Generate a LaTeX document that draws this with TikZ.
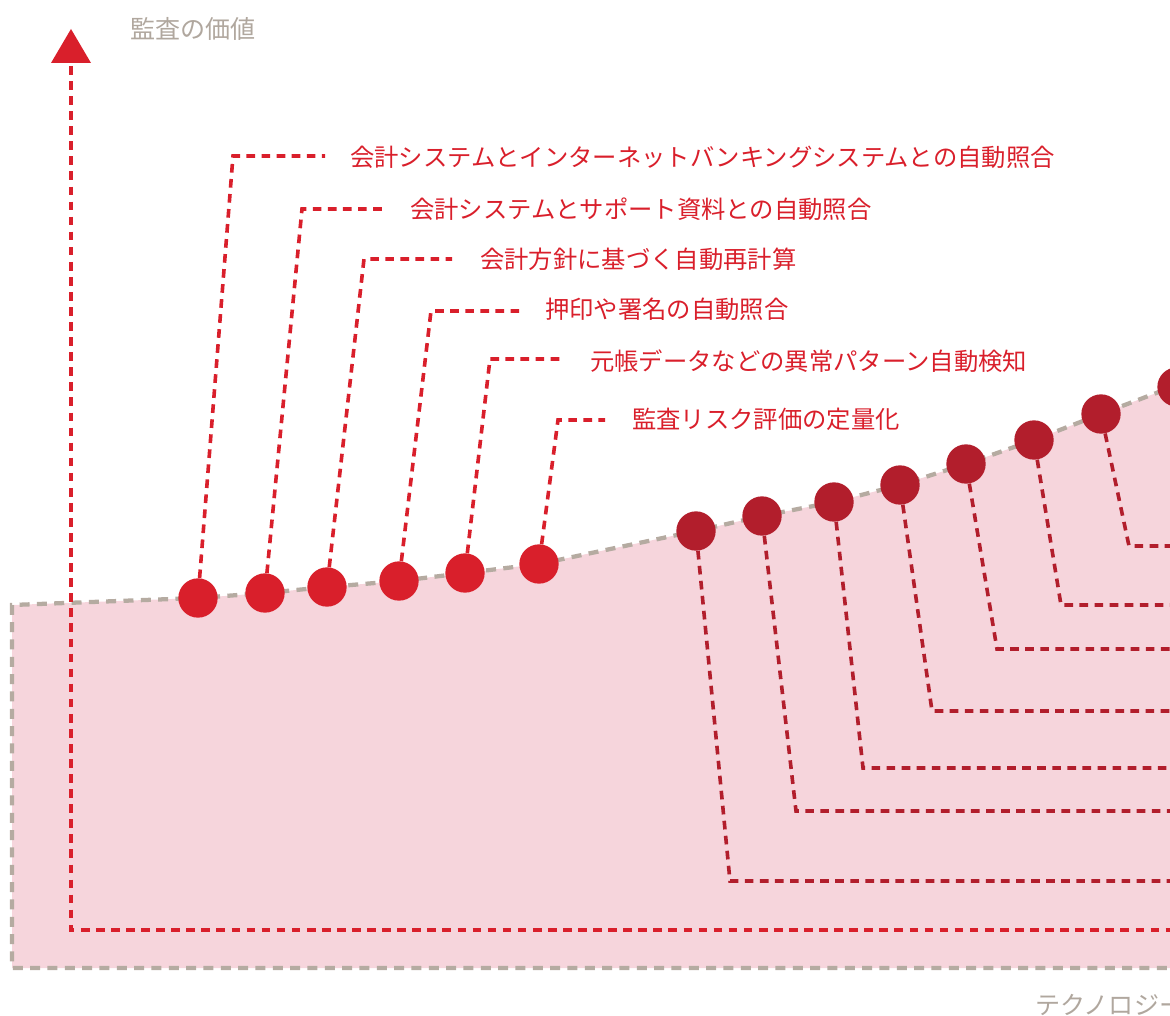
\documentclass[tikz,border=0pt]{standalone}
\usepackage{fontspec}
\newfontfamily\jp{Noto Sans CJK JP}
\usetikzlibrary{arrows.meta}
\definecolor{cRed}{HTML}{D91F2B}
\definecolor{cDark}{HTML}{B21E2C}
\definecolor{cGray}{HTML}{B5ABA1}
\definecolor{cPink}{HTML}{F6D5DC}
\definecolor{cLabel}{HTML}{B0A79E}
\begin{document}
\begin{tikzpicture}[x=0.75pt,y=-0.75pt,
  dotL/.style={circle,fill=cRed,inner sep=0pt,minimum size=29.5pt},
  dotD/.style={circle,fill=cDark,inner sep=0pt,minimum size=29.5pt},
  leadL/.style={draw=cRed,line width=2.7pt,dash pattern=on 6.5pt off 4.8pt},
  leadD/.style={draw=cDark,line width=2.7pt,dash pattern=on 6.5pt off 4.8pt},
  axisline/.style={draw=cRed,line width=2.7pt,dash pattern=on 6.5pt off 4.8pt},
  border/.style={draw=cGray,line width=3.2pt,dash pattern=on 7.5pt off 5.5pt},
  lbl/.style={anchor=west,inner sep=0pt,text=cRed,font=\jp\fontsize{18.25}{20}\selectfont},
  axlbl/.style={anchor=west,inner sep=0pt,text=cLabel,font=\jp\fontsize{18.8}{20}\selectfont}]
\useasboundingbox (0,0) rectangle (1170,1016);
% area
\fill[cPink] (12,605) -- (198,598) -- (265,593) -- (327,587) -- (399,581) -- (465,573) -- (539,564)
  -- (696,531) -- (762,516) -- (834,502) -- (900,485) -- (966,464) -- (1034,440) -- (1101,414) -- (1180,384)
  -- (1180,968) -- (12,968) -- cycle;
\draw[border] (1180,384) -- (1101,414) -- (1034,440) -- (966,464) -- (900,485) -- (834,502) -- (762,516) -- (696,531)
  -- (539,564) -- (465,573) -- (399,581) -- (327,587) -- (265,593) -- (198,598) -- (12,605) -- (12,968) -- (1180,968);
% axes
\coordinate (origin) at (71,930);
\coordinate (ytop) at (71,66);
\coordinate (xend) at (1180,930);
\draw[axisline] (ytop) -- (origin) -- (xend);
\fill[cRed] (51,63) -- (91,63) -- (71,29) -- cycle;
\node[axlbl] (yl) at (130,29) {監査の価値};
\node[axlbl] (xl) at (1035,1005) {テクノロジー};
% left dots
\node[dotL] (a1) at (198,598) {};
\node[dotL] (a2) at (265,593) {};
\node[dotL] (a3) at (327,587) {};
\node[dotL] (a4) at (399,581) {};
\node[dotL] (a5) at (465,573) {};
\node[dotL] (a6) at (539,564) {};
% right dots
\node[dotD] (b1) at (696,531) {};
\node[dotD] (b2) at (762,516) {};
\node[dotD] (b3) at (834,502) {};
\node[dotD] (b4) at (900,485) {};
\node[dotD] (b5) at (966,464) {};
\node[dotD] (b6) at (1034,440) {};
\node[dotD] (b7) at (1101,414) {};
\node[dotD] (b8) at (1177,387) {};
% labels
\node[lbl] (t1) at (350,157) {会計システムとインターネットバンキングシステムとの自動照合};
\node[lbl] (t2) at (410,209) {会計システムとサポート資料との自動照合};
\node[lbl] (t3) at (480,259) {会計方針に基づく自動再計算};
\node[lbl] (t4) at (545,309) {押印や署名の自動照合};
\node[lbl] (t5) at (590,361) {元帳データなどの異常パターン自動検知};
\node[lbl] (t6) at (632,419) {監査リスク評価の定量化};
% left leaders
\draw[leadL] (a1) -- (233,156) -- (325,156);
\draw[leadL] (a2) -- (302,209) -- (385,209);
\draw[leadL] (a3) -- (364,259) -- (452,259);
\draw[leadL] (a4) -- (431,311) -- (520,311);
\draw[leadL] (a5) -- (490,359) -- (565,359);
\draw[leadL] (a6) -- (558,420) -- (605,420);
% right leaders
\draw[leadD] (b1) -- (730,881) -- (1180,881);
\draw[leadD] (b2) -- (796,811) -- (1180,811);
\draw[leadD] (b3) -- (863,768) -- (1180,768);
\draw[leadD] (b4) -- (932,711) -- (1180,711);
\draw[leadD] (b5) -- (997,649) -- (1180,649);
\draw[leadD] (b6) -- (1061,605) -- (1180,605);
\draw[leadD] (b7) -- (1129,546) -- (1180,546);
\end{tikzpicture}
\end{document}
